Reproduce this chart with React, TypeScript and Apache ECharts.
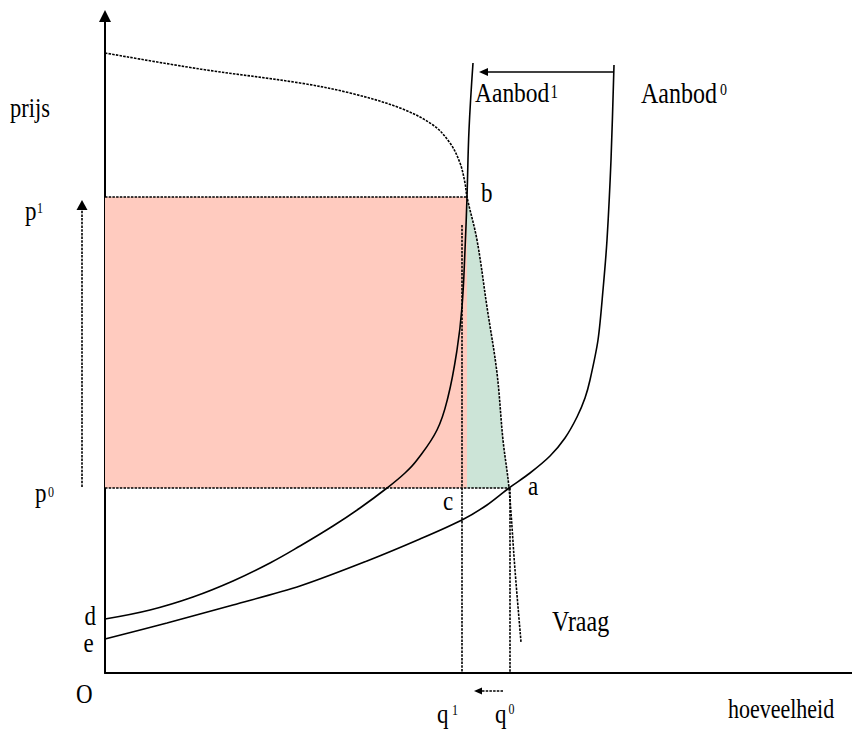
import React, { useEffect, useRef } from 'react';
import * as echarts from 'echarts';

// ---- curve values: quantity (x) and price (y) in chart units ----
const demandQ = [0, 95, 195, 245, 295, 328, 345, 355, 360, 362, 372, 382, 392, 398, 404, 410, 416];
const demandP = [620, 604, 590, 580, 565, 548, 530, 510, 490, 476, 433, 366, 300, 233, 185, 103, 31];

const supply1Q = [0, 45, 88, 128, 165, 195, 228, 255, 282, 300, 312, 332, 343, 352, 357, 360, 362, 364, 368];
const supply1P = [54, 63, 76, 92, 110, 127, 147, 165, 185, 200, 213, 243, 276, 323, 366, 423, 476, 543, 610];

const supply0Q = [0, 62, 128, 195, 262, 315, 357, 382, 404, 425, 445, 460, 472, 480, 485, 493, 498, 502, 506, 509];
const supply0P = [34, 50, 68, 87, 112, 134, 153, 168, 185, 200, 217, 235, 256, 275, 293, 333, 383, 433, 513, 608];

// ---- equilibrium levels ----
const P0 = 185; // old price
const P1 = 476; // new price
const Q0 = 405; // old quantity
const Q1 = 357; // new quantity
const QB = 362; // quantity at point b
const Q1_TOP = 448;

// ---- axis ranges ----
const X_MAX = 747;
const Y_MAX = 657;

// ---- annotation arrows (from -> to) ----
const arrowFrom: number[][] = [[-23, 186], [398, -18], [509, 601]];
const arrowTo: number[][] = [[-23, 473], [369, -18], [374, 601]];
const arrowDashed = [true, true, false];
const arrowHeadLen = [10, 8, 9];
const arrowHeadW = [11, 7, 8];

const zip = (a: number[], b: number[]) => a.map((v, i) => [v, b[i]]);

const FONT = '"Liberation Serif", "Times New Roman", serif';
const SY = 1.2;
const DASH = [2.5, 1.2];

type Lbl = [string, number, number, number];
const labels: Lbl[] = [
  ['prijs', 10, 107.7, 22.5],
  ['p', 25, 210.7, 23],
  ['1', 37, 208, 12],
  ['p', 35, 492.7, 23],
  ['0', 48, 492, 12],
  ['d', 84.4, 615.7, 23],
  ['e', 83.5, 642.7, 23],
  ['O', 76, 693.7, 23],
  ['q', 437, 713, 23],
  ['1', 452, 710, 12],
  ['q', 495, 713, 23],
  ['0', 508.5, 709.5, 12],
  ['hoeveelheid', 728, 708.7, 22],
  ['Vraag', 552, 621.7, 24],
  ['Aanbod', 475, 92.7, 23.5],
  ['1', 550.5, 92.5, 15],
  ['Aanbod', 641, 93.7, 24],
  ['0', 720, 89.5, 14],
  ['b', 481, 192.7, 23],
  ['a', 528, 485.7, 23],
  ['c', 443, 500.7, 23],
];

export default function App() {
  const ref = useRef<HTMLDivElement>(null);
  useEffect(() => {
    const chart = echarts.init(ref.current!, null, { renderer: 'svg' });

    const demand = zip(demandQ, demandP);
    const supply1 = zip(supply1Q, supply1P);
    const supply0 = zip(supply0Q, supply0P);

    const aIdx = demandP.indexOf(P0);
    const bIdx = demandP.indexOf(P1);
    const pinkPts = [[0, P0], [QB, P0], [QB, P1], [0, P1]];
    const greenPts = [[QB, P0]].concat(demand.slice(bIdx, aIdx + 1).reverse());

    const guideFrom = [[0, P1], [0, P0], [Q1, Q1_TOP], [Q0, P0]];
    const guideTo = [[QB, P1], [Q0, P0], [Q1, 0], [Q0, 0]];

    const curveStyle = { color: '#000', width: 1.6 };

    const option: any = {
      animation: false,
      backgroundColor: '#fff',
      grid: { left: 105, top: 16, width: X_MAX, height: Y_MAX },
      xAxis: {
        type: 'value', min: 0, max: X_MAX,
        axisLine: { show: true, onZero: false, lineStyle: { color: '#000', width: 2 } },
        axisTick: { show: false }, axisLabel: { show: false }, splitLine: { show: false },
      },
      yAxis: {
        type: 'value', min: 0, max: Y_MAX,
        axisLine: {
          show: true, onZero: false, symbol: ['none', 'triangle'], symbolSize: [12, 12],
          lineStyle: { color: '#000', width: 2 },
        },
        axisTick: { show: false }, axisLabel: { show: false }, splitLine: { show: false },
      },
      series: [
        {
          type: 'custom', silent: true, z: 1,
          data: [[0, 0], [1, 1]],
          renderItem: (params: any, api: any) => {
            const pts = params.dataIndex === 0 ? pinkPts : greenPts;
            return {
              type: 'polygon',
              shape: { points: pts.map((p) => api.coord(p)) },
              style: { fill: params.dataIndex === 0 ? '#FFCBBF' : '#CCE4D7', stroke: null },
            };
          },
        },
        {
          type: 'custom', silent: true, z: 2,
          data: guideFrom.map((p) => p),
          renderItem: (params: any, api: any) => {
            const i = params.dataIndex;
            const a = api.coord(guideFrom[i]);
            const b = api.coord(guideTo[i]);
            return {
              type: 'line',
              shape: { x1: a[0], y1: a[1], x2: b[0], y2: b[1] },
              style: { stroke: '#000', lineWidth: 1.6, lineDash: DASH },
            };
          },
        },
        {
          type: 'custom', silent: true, z: 4,
          data: arrowFrom.map((p) => p),
          renderItem: (params: any, api: any) => {
            const i = params.dataIndex;
            const a = api.coord(arrowFrom[i]);
            const b = api.coord(arrowTo[i]);
            const dx = b[0] - a[0];
            const dy = b[1] - a[1];
            const L = Math.hypot(dx, dy);
            const ux = dx / L;
            const uy = dy / L;
            const hl = arrowHeadLen[i];
            const hw = arrowHeadW[i];
            const bx = b[0] - ux * hl;
            const by = b[1] - uy * hl;
            return {
              type: 'group',
              children: [
                {
                  type: 'line',
                  shape: { x1: a[0], y1: a[1], x2: bx, y2: by },
                  style: { stroke: '#000', lineWidth: 1.6, lineDash: arrowDashed[i] ? DASH : null },
                },
                {
                  type: 'polygon',
                  shape: {
                    points: [
                      [b[0], b[1]],
                      [bx - (uy * hw) / 2, by + (ux * hw) / 2],
                      [bx + (uy * hw) / 2, by - (ux * hw) / 2],
                    ],
                  },
                  style: { fill: '#000', stroke: null },
                },
              ],
            };
          },
        },
        {
          name: 'Vraag', type: 'line', data: demand, showSymbol: false, smooth: 0.35, z: 3,
          lineStyle: { ...curveStyle, width: 1.6, type: DASH }, silent: true,
        },
        {
          name: 'Aanbod1', type: 'line', data: supply1, showSymbol: false, smooth: 0.4, z: 3,
          lineStyle: curveStyle, silent: true,
        },
        {
          name: 'Aanbod0', type: 'line', data: supply0, showSymbol: false, smooth: 0.3, z: 3,
          lineStyle: curveStyle, silent: true,
        },
      ],
      graphic: labels.map(([text, x, y, size]) => ({
        type: 'text', x, y, scaleY: SY, silent: true, z: 100,
        style: {
          text, x: 0, y: 0, fontSize: size, fontFamily: FONT, fill: '#000',
          align: 'left', verticalAlign: 'middle',
        },
      })),
    };
    chart.setOption(option);
    return () => chart.dispose();
  }, []);
  return (
    <div
      ref={ref}
      style={{ position: 'absolute', left: 0, top: 0, width: 852, height: 731, background: '#fff' }}
    />
  );
}
